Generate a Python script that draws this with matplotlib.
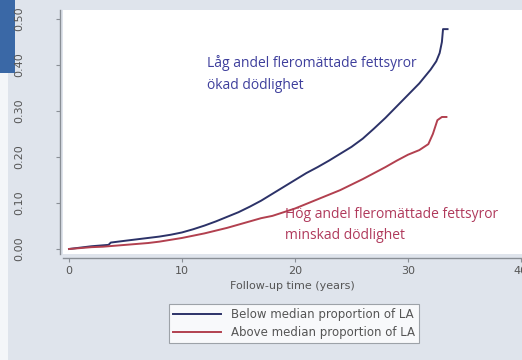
import matplotlib
matplotlib.use("Agg")
import matplotlib.pyplot as plt
from matplotlib.patches import Rectangle

# Cumulative mortality
years_below = [0, 1, 2, 3, 3.5, 3.7, 5, 6, 7, 8, 9, 10, 11, 12, 13, 14, 15, 16, 17, 18, 19, 20,
               21, 22, 23, 24, 25, 26, 27, 28, 29, 30, 31, 32, 32.5, 32.8, 33.0, 33.1, 33.5]
below = [0.0, 0.003, 0.006, 0.008, 0.009, 0.014, 0.018, 0.021, 0.024, 0.027, 0.031, 0.036,
         0.043, 0.051, 0.060, 0.070, 0.080, 0.092, 0.105, 0.120, 0.135, 0.150, 0.165, 0.178,
         0.192, 0.207, 0.222, 0.240, 0.262, 0.285, 0.310, 0.335, 0.360, 0.390, 0.408, 0.426,
         0.450, 0.478, 0.478]

years_above = [0, 1, 2, 3, 4, 5, 6, 7, 8, 9, 10, 11, 12, 13, 14, 15, 16, 17, 18, 19, 20,
               21, 22, 23, 24, 25, 26, 27, 28, 29, 30, 31, 31.8, 32.2, 32.6, 33.0, 33.4]
above = [0.0, 0.002, 0.004, 0.005, 0.007, 0.009, 0.011, 0.013, 0.016, 0.020, 0.024, 0.029,
         0.034, 0.040, 0.046, 0.053, 0.060, 0.067, 0.072, 0.080, 0.088, 0.098, 0.108, 0.118,
         0.128, 0.140, 0.152, 0.165, 0.178, 0.192, 0.205, 0.215, 0.228, 0.250, 0.280, 0.287, 0.287]

xticks = [0, 10, 20, 30, 40]
yticks = [0.0, 0.1, 0.2, 0.3, 0.4, 0.5]
ytick_labels = ["0.00", "0.10", "0.20", "0.30", "0.40", "0.50"]
series_labels = ["Below median proportion of LA", "Above median proportion of LA"]
note_low = "Låg andel fleromättade fettsyror\nökad dödlighet"
note_high = "Hög andel fleromättade fettsyror\nminskad dödlighet"

BG = "#dfe4ec"
BLUE = "#2c3268"
RED = "#b2404f"
GREY = "#555555"
W, H = 522, 360

fig = plt.figure(figsize=(W / 100, H / 100), dpi=100)
fig.patch.set_facecolor(BG)
fig.patches.append(Rectangle((0, 0), 8 / W, (H - 73) / H, transform=fig.transFigure,
                             facecolor="#f4f6f9", edgecolor="none", zorder=-5))
fig.patches.append(Rectangle((0, (H - 73) / H), 15 / W, 73 / H, transform=fig.transFigure,
                             facecolor="#3a68a6", edgecolor="none", zorder=-5))

left, right, top, bottom = 63, 522, 10, 254
ax = fig.add_axes([left / W, 1 - bottom / H, (right - left) / W, (bottom - top) / H])
ax.set_facecolor("white")
ax.set_zorder(1)

px_per_year = (521 - 69) / 40
ax.set_xlim(-(69 - left) / px_per_year, 40 + (right - 521) / px_per_year)
px_per_unit = (249 - 19) / 0.5
ax.set_ylim(-(bottom - 249) / px_per_unit, 0.5 + (19 - top) / px_per_unit)

ax.plot(years_below, below, color=BLUE, lw=1.4, label=series_labels[0])
ax.plot(years_above, above, color=RED, lw=1.4, label=series_labels[1])

for s in ["top", "right"]:
    ax.spines[s].set_visible(False)
ax.spines["left"].set_position(("outward", 2))
ax.spines["bottom"].set_position(("outward", 3))
for s in ["left", "bottom"]:
    ax.spines[s].set_color("#8a8f96")
    ax.spines[s].set_linewidth(1.0)

ax.set_xticks(xticks)
ax.set_xticklabels([str(t) for t in xticks], fontsize=8, color=GREY, family="DejaVu Sans")
ax.set_yticks(yticks)
ax.set_yticklabels(ytick_labels, fontsize=8, color=GREY, rotation=90, va="center",
                   family="DejaVu Sans")
ax.tick_params(axis="both", length=3, color="#8a8f96", width=0.8)
ax.tick_params(axis="y", pad=23)
ax.tick_params(axis="x", pad=3)
ax.set_xlabel("Follow-up time (years)", fontsize=8, color=GREY, family="DejaVu Sans",
              labelpad=3)

fig.text(207 / W, 1 - 74 / H, note_low, color="#3e3f9c",
         fontsize=10, family="Open Sans", va="center", linespacing=1.55)
fig.text(285 / W, 1 - 225 / H, note_high, color="#b03a5c",
         fontsize=10, family="Open Sans", va="center", linespacing=1.55)

leg = fig.legend(loc="center", bbox_to_anchor=(294 / W, 1 - 323.5 / H),
                 frameon=True, fancybox=False, handlelength=4.0, handletextpad=0.85,
                 borderpad=0.35, labelspacing=0.4,
                 prop={"family": "DejaVu Sans", "size": 8.5})
leg.get_frame().set_edgecolor("#8a8f96")
leg.get_frame().set_linewidth(0.8)
for t in leg.get_texts():
    t.set_color(GREY)

fig.savefig("out.png", dpi=100, facecolor=fig.get_facecolor())
